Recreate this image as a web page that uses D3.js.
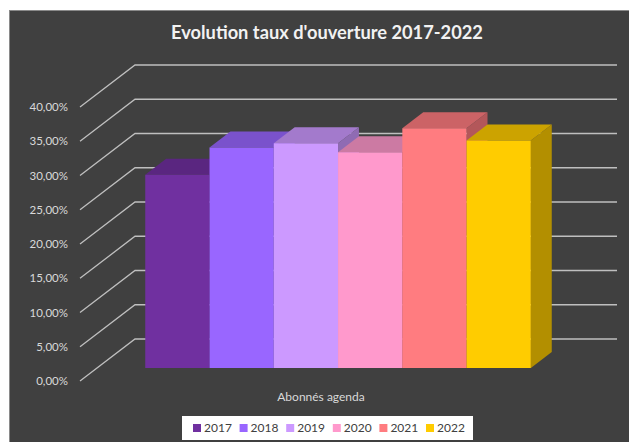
<!DOCTYPE html>
<html>
<head>
<meta charset="utf-8">
<script src="https://cdn.jsdelivr.net/npm/d3@7"></script>
<style>
  html, body { margin: 0; padding: 0; background: #ffffff; }
  svg { display: block; }
</style>
</head>
<body>
<svg id="chart" width="629" height="442"></svg>
<script>
const categories = ["Abonnés agenda"];
const years = ["2017", "2018", "2019", "2020", "2021", "2022"];
const values = [28.2, 32.2, 32.8, 31.5, 35.0, 33.2];
const colors = ["#7030a0", "#9966ff", "#cc99ff", "#ff99cc", "#ff7c80", "#ffcc00"];
const tickValues = [0, 5, 10, 15, 20, 25, 30, 35, 40];
const tickLabels = ["0,00%", "5,00%", "10,00%", "15,00%", "20,00%", "25,00%", "30,00%", "35,00%", "40,00%"];
const title = "Evolution taux d'ouverture 2017-2022";

const svg = d3.select("#chart");
const W = 629, H = 442;
const FONT = "Lato, 'Open Sans', sans-serif";

// background panel
svg.append("rect").attr("x", 9.5).attr("y", 10.5).attr("width", W).attr("height", H)
  .attr("fill", "#404040").attr("stroke", "#8a8a8a").attr("stroke-width", 1);

// scales (base plane = front edge of the floor)
const x0 = d3.scaleBand().domain(categories).range([80, 562]).paddingInner(0).paddingOuter(0.125);
const x1 = d3.scaleBand().domain(years).range([0, x0.bandwidth()]).padding(0);
const y = d3.scaleLinear().domain([0, 40]).range([381, 107]);
const DX = 55, DY = 42;      // full depth oblique offset
const dFront = 0.31, dBack = 0.69;
const P = (x, v, d) => [x + DX * d, y(v) - DY * d];

// gridlines: diagonal on side + horizontal on back wall
const grid = svg.append("g").attr("stroke", "#bfbfbf").attr("stroke-width", 1.3).attr("fill", "none");
tickValues.forEach(v => {
  const a = P(80, v, 0), b = P(80, v, 1), c = P(562, v, 1);
  grid.append("path").attr("d", `M${a[0]},${a[1]}L${b[0]},${b[1]}L${c[0]},${c[1]}`);
});

// tick labels
svg.append("g").selectAll("text").data(tickValues).join("text")
  .attr("x", 68).attr("y", d => y(d)).attr("dy", "0.35em")
  .attr("text-anchor", "end")
  .attr("font-family", FONT).attr("font-size", 11.5)
  .attr("fill", "#d9d9d9")
  .text((d, i) => tickLabels[i]);

// bars
const shade = (c, k) => { const r = d3.rgb(c); return d3.rgb(r.r * k, r.g * k, r.b * k).formatHex(); };
const poly = pts => "M" + pts.map(p => p.join(",")).join("L") + "Z";
const barsG = svg.append("g");
categories.forEach(cat => {
  years.forEach((yr, i) => {
    const xl = x0(cat) + x1(yr), xr = xl + x1.bandwidth();
    const v = values[i];
    const g = barsG.append("g");
    g.append("path").attr("fill", shade(colors[i], 0.7))
      .attr("d", poly([P(xr, 0, dFront), P(xr, v, dFront), P(xr, v, dBack), P(xr, 0, dBack)]));
    g.append("path").attr("fill", shade(colors[i], 0.8))
      .attr("d", poly([P(xl, v, dFront), P(xr, v, dFront), P(xr, v, dBack), P(xl, v, dBack)]));
    g.append("path").attr("fill", colors[i])
      .attr("d", poly([P(xl, 0, dFront), P(xr, 0, dFront), P(xr, v, dFront), P(xl, v, dFront)]));
  });
});

// category label
svg.append("text").attr("x", x0(categories[0]) + x0.bandwidth() / 2).attr("y", 397).attr("dy", "0.35em")
  .attr("text-anchor", "middle")
  .attr("font-family", FONT).attr("font-size", 12)
  .attr("fill", "#d9d9d9").text(categories[0]);

// title
const t = svg.append("text").attr("x", 327).attr("y", 39)
  .attr("text-anchor", "middle")
  .attr("font-family", FONT).attr("font-weight", "bold")
  .attr("font-size", 18).attr("fill", "#f2f2f2").text(title);
const tw = t.node().getComputedTextLength();
t.attr("font-size", 18 * 312 / tw);

// legend
const lg = svg.append("g");
lg.append("rect").attr("x", 182).attr("y", 416).attr("width", 291).attr("height", 24).attr("fill", "#ffffff");
years.forEach((yr, i) => {
  const lx = 193 + i * 46.6;
  lg.append("rect").attr("x", lx).attr("y", 424).attr("width", 8).attr("height", 8).attr("fill", colors[i]);
  lg.append("text").attr("x", lx + 11).attr("y", 428).attr("dy", "0.35em")
    .attr("font-family", FONT).attr("font-size", 12)
    .attr("fill", "#404040").text(yr);
});
</script>
</body>
</html>
